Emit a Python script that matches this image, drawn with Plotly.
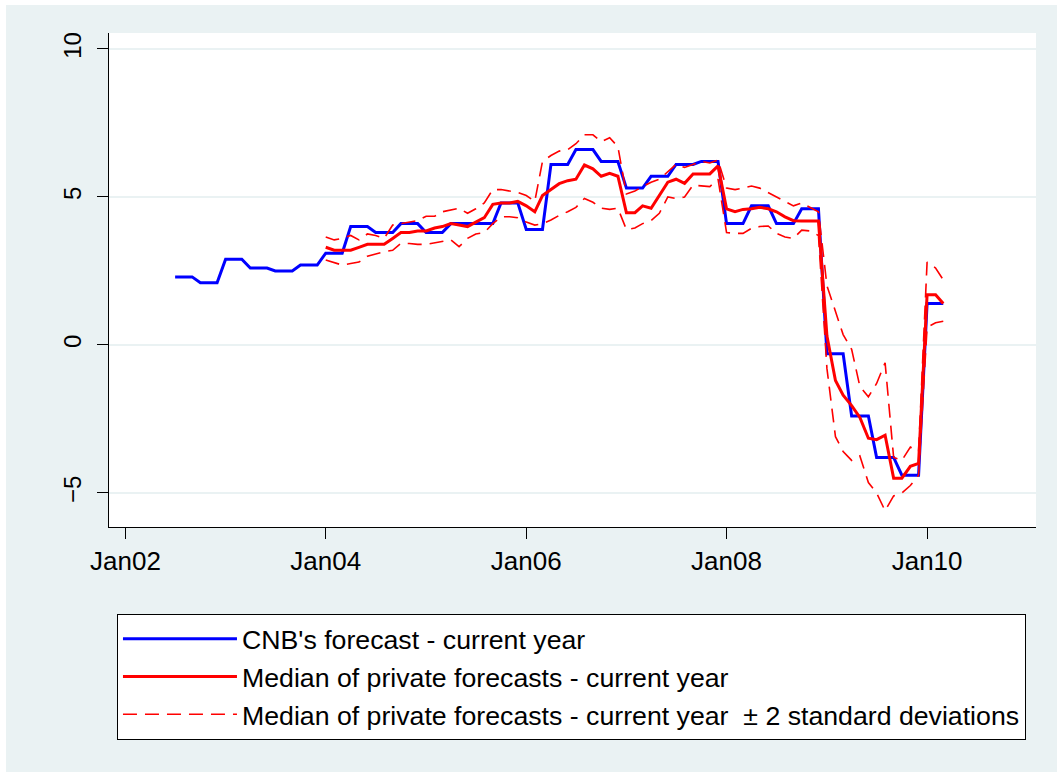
import pandas as pd
import plotly.graph_objects as go

# CNB inflation forecast for the current year (monthly, Jul 2002 - Mar 2010)
cnb_start = "2002-07-01"
cnb_forecast = [
    2.3, 2.3, 2.3, 2.1, 2.1, 2.1,
    2.9, 2.9, 2.9, 2.6, 2.6, 2.6, 2.5, 2.5, 2.5, 2.7, 2.7, 2.7,
    3.1, 3.1, 3.1, 4.0, 4.0, 4.0, 3.8, 3.8, 3.8, 4.1, 4.1, 4.1,
    3.8, 3.8, 3.8, 4.1, 4.1, 4.1, 4.1, 4.1, 4.1, 4.8, 4.8, 4.8,
    3.9, 3.9, 3.9, 6.1, 6.1, 6.1, 6.6, 6.6, 6.6, 6.2, 6.2, 6.2,
    5.3, 5.3, 5.3, 5.7, 5.7, 5.7, 6.1, 6.1, 6.1, 6.2, 6.2, 6.2,
    4.1, 4.1, 4.1, 4.7, 4.7, 4.7, 4.1, 4.1, 4.1, 4.6, 4.6, 4.6,
    -0.3, -0.3, -0.3, -2.4, -2.4, -2.4, -3.8, -3.8, -3.8, -4.4, -4.4, -4.4,
    1.4, 1.4, 1.4,
]

# Private forecasts: median and +/- 2 standard deviations (monthly, Jan 2004 - Mar 2010)
private_start = "2004-01-01"
private_median = [
    3.3, 3.2, 3.2, 3.2, 3.3, 3.4, 3.4, 3.4, 3.6, 3.8, 3.8, 3.85,
    3.85, 3.95, 4.0, 4.1, 4.05, 4.0, 4.15, 4.3, 4.75, 4.8, 4.8, 4.85,
    4.7, 4.5, 5.05, 5.25, 5.45, 5.55, 5.6, 6.08, 5.95, 5.7, 5.8, 5.7,
    4.47, 4.47, 4.7, 4.62, 5.05, 5.5, 5.6, 5.46, 5.78, 5.78, 5.78, 6.05,
    4.6, 4.5, 4.58, 4.6, 4.65, 4.6, 4.5, 4.33, 4.2, 4.19, 4.19, 4.19,
    0.3, -1.2, -1.7, -2.05, -2.45, -3.15, -3.2, -3.05, -4.5, -4.5, -4.1, -4.0,
    1.7, 1.7, 1.4,
]
private_upper = [
    3.65, 3.55, 3.6, 3.7, 3.55, 3.75, 3.7, 3.6, 4.05, 4.1, 4.15, 4.2,
    4.35, 4.35, 4.5, 4.55, 4.62, 4.45, 4.6, 4.8, 5.25, 5.25, 5.2, 5.15,
    5.05, 4.85, 6.2, 6.4, 6.55, 6.6, 6.8, 7.1, 7.1, 6.87, 7.0, 6.7,
    5.1, 5.2, 5.35, 5.5, 5.6, 5.85, 6.1, 6.0, 6.1, 6.2, 6.15, 6.25,
    5.3, 5.25, 5.3, 5.37, 5.3, 5.15, 5.0, 4.85, 4.7, 4.8, 4.65, 4.5,
    2.0, 1.1, 0.35, -0.15, -1.4, -1.75, -1.3, -0.6, -3.8, -3.9, -3.45, -3.6,
    2.8, 2.6, 2.2,
]
private_lower = [
    2.87, 2.78, 2.7, 2.75, 2.8, 3.0, 3.08, 3.15, 3.2, 3.43, 3.43, 3.4,
    3.4, 3.45, 3.49, 3.55, 3.32, 3.6, 3.75, 3.8, 4.1, 4.33, 4.33, 4.3,
    4.15, 4.05, 4.1, 4.22, 4.38, 4.5, 4.65, 4.95, 4.82, 4.62, 4.58, 4.62,
    3.9, 3.95, 4.1, 4.2, 4.45, 5.0, 4.95, 5.0, 5.4, 5.38, 5.35, 5.6,
    3.8, 3.77, 3.77, 3.94, 4.0, 4.02, 3.77, 3.65, 3.6, 3.88, 3.85, 3.7,
    -0.8, -3.1, -3.6, -3.9, -3.75, -4.65, -5.0, -5.6, -5.1, -5.0, -4.75, -4.4,
    0.6, 0.75, 0.8,
]

series_names = [
    "CNB's forecast - current year",
    "Median of private forecasts - current year",
    "Median of private forecasts - current year  \u00b1 2 standard deviations",
]
x_tick_dates = ["2002-01-01", "2004-01-01", "2006-01-01", "2008-01-01", "2010-01-01"]
y_tick_values = [-5, 0, 5, 10]

cnb_dates = pd.date_range(cnb_start, periods=len(cnb_forecast), freq="MS")
private_dates = pd.date_range(private_start, periods=len(private_median), freq="MS")

BG = "#EAF2F3"
FONT = "Liberation Sans, Arial, Helvetica, sans-serif"

fig = go.Figure()
fig.add_trace(go.Scatter(
    x=cnb_dates, y=cnb_forecast, mode="lines", name=series_names[0],
    line=dict(color="#0000FF", width=3),
))
fig.add_trace(go.Scatter(
    x=private_dates, y=private_median, mode="lines", name=series_names[1],
    line=dict(color="#FF0000", width=3),
))
fig.add_trace(go.Scatter(
    x=private_dates, y=private_upper, mode="lines", name=series_names[2],
    line=dict(color="#FF0000", width=1.6, dash="14px,8px"),
    legendgroup="band",
))
fig.add_trace(go.Scatter(
    x=private_dates, y=private_lower, mode="lines", name=series_names[2],
    line=dict(color="#FF0000", width=1.6, dash="14px,8px"),
    legendgroup="band", showlegend=False,
))

# white frame strip around the graph region (left and top)
fig.add_shape(type="rect", xref="paper", yref="paper", layer="below",
              x0=-0.2, x1=-0.1111, y0=-1, y1=1.2, line_width=0, fillcolor="white")
fig.add_shape(type="rect", xref="paper", yref="paper", layer="below",
              x0=-0.2, x1=1.1, y0=1.0567, y1=1.2, line_width=0, fillcolor="white")

fig.update_layout(
    width=1057, height=772,
    margin=dict(l=109, r=21, t=33, b=245),
    paper_bgcolor=BG, plot_bgcolor="white",
    font=dict(family=FONT, color="black"),
    showlegend=True,
    legend=dict(
        x=0.0086, y=-0.1761, xanchor="left", yanchor="top",
        bgcolor="white", bordercolor="black", borderwidth=1,
        font=dict(size=26.7, family=FONT, color="black"),
        itemwidth=114, traceorder="normal",
    ),
    xaxis=dict(
        type="date", range=["2001-11-02", "2011-02-02"],
        tickvals=x_tick_dates, tickformat="%b%y",
        showline=True, linecolor="black", linewidth=1,
        ticks="outside", ticklen=11, tickcolor="black", tickwidth=1,
        showgrid=False, zeroline=False,
        tickfont=dict(size=26, family=FONT, color="black"),
    ),
    yaxis=dict(
        range=[-6.15, 10.54], tickvals=y_tick_values,
        showline=True, linecolor="black", linewidth=1,
        ticks="outside", ticklen=11, tickcolor="black", tickwidth=1,
        showgrid=True, gridcolor=BG, gridwidth=2, zeroline=False,
        tickangle=-90, ticklabelstandoff=6,
        tickfont=dict(size=24, family=FONT, color="black"),
    ),
)

fig.write_html("out.html")
